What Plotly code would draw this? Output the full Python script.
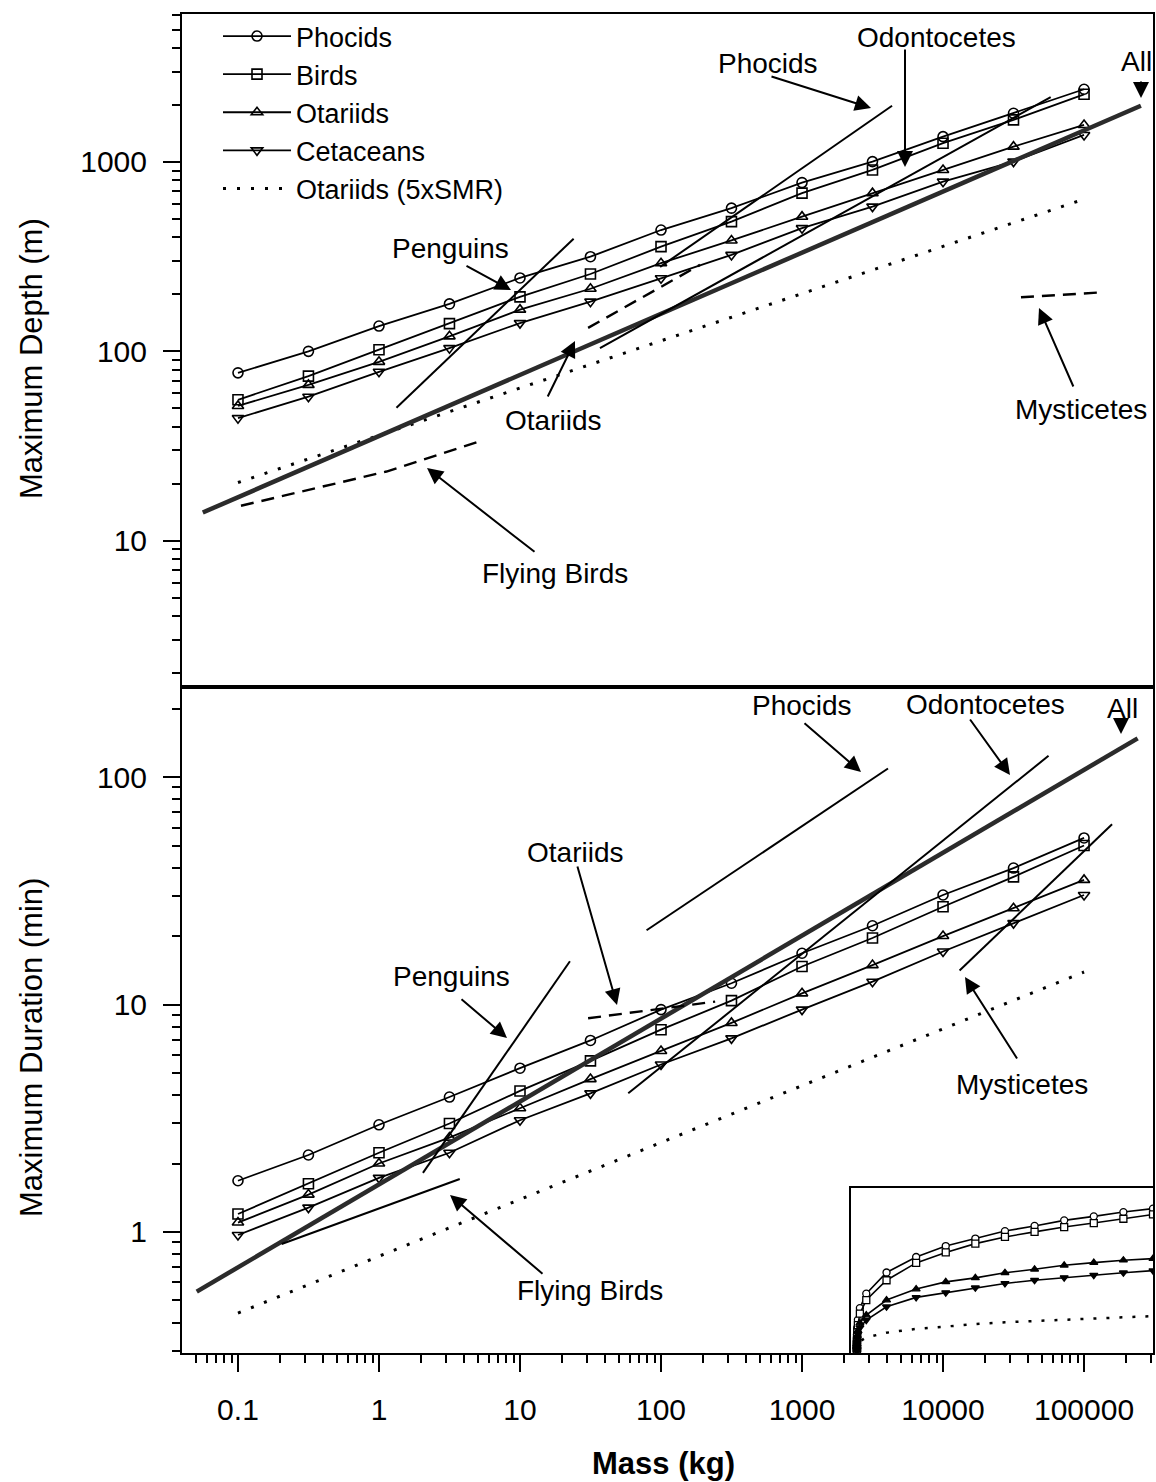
import math
import plotly.graph_objects as go

# ---------------- data ----------------
mass = [0.1, 0.316, 1, 3.16, 10, 31.6, 100, 316, 1000, 3160, 10000, 31600, 100000]

depth_phocids = [77, 100, 136, 178, 244, 316, 437, 570, 778, 1004, 1360, 1807, 2420]
depth_birds = [55.5, 74, 102, 140, 194, 256, 357, 484, 684, 907, 1256, 1667, 2275]
depth_otariids = [51.5, 66.5, 88, 120, 166, 214, 292, 385, 514, 684, 907, 1204, 1567]
depth_cetaceans = [44.4, 57.6, 78, 104, 141, 183, 243, 323, 447, 581, 787, 1004, 1388]

dur_phocids = [1.68, 2.18, 2.96, 3.92, 5.25, 6.95, 9.5, 12.4, 16.8, 22.2, 30.3, 39.8, 54]
dur_birds = [1.2, 1.63, 2.23, 3.0, 4.17, 5.65, 7.75, 10.4, 14.7, 19.6, 26.9, 36.4, 50]
dur_otariids = [1.1, 1.46, 2.0, 2.6, 3.5, 4.7, 6.25, 8.3, 11.2, 14.9, 20.0, 26.5, 35.3]
dur_cetaceans = [0.97, 1.28, 1.73, 2.23, 3.1, 4.07, 5.45, 7.1, 9.5, 12.6, 17.1, 22.8, 30.3]

smr_mass = [0.1, 100000]
depth_smr = [20.3, 636]
dur_smr = [0.44, 13.9]

# regression lines, maximum depth
all_mass_d = [0.0563, 253000]
all_depth = [14.1, 1980]
peng_mass_d = [1.33, 24]
peng_depth = [50.4, 393]
phoc_mass_d = [98.5, 4350]
phoc_depth = [279, 1980]
odon_mass_d = [36.9, 58000]
odon_depth = [104, 2200]
otar_mass_d = [30.4, 189]
otar_depth = [133, 286]
fly_mass_d = [0.105, 0.41, 1.13, 5.0]
fly_depth = [15.3, 19.4, 23.2, 33.2]
myst_mass_d = [35700, 136000]
myst_depth = [193, 205]

# regression lines, maximum duration
all_mass_t = [0.051, 240000]
all_dur = [0.547, 148]
peng_mass_t = [2.05, 22.6]
peng_dur = [1.82, 15.5]
phoc_mass_t = [79, 4070]
phoc_dur = [21.2, 109]
odon_mass_t = [58.6, 56000]
odon_dur = [4.07, 124]
otar_mass_t = [30.4, 242]
otar_dur = [8.7, 10.3]
fly_mass_t = [0.204, 3.74]
fly_dur = [0.885, 1.71]
myst_mass_t = [13100, 158000]
myst_dur = [14.1, 62]

# inset (linear axes), maximum duration
inset_mass = [0.1, 0.316, 1, 3.16, 10, 31.6, 100, 316, 1000, 3160,
              10000, 20000, 30000, 40000, 50000, 60000, 70000, 80000, 90000, 100000]
inset_phocids = [1.68, 2.18, 2.96, 3.92, 5.25, 6.95, 9.5, 12.4, 16.8, 22.2,
                 30.1, 35.9, 40.0, 42.8, 45.6, 47.5, 49.6, 51.1, 52.7, 54.0]
inset_birds = [1.2, 1.63, 2.23, 3.0, 4.17, 5.65, 7.75, 10.4, 14.7, 19.8,
               27.2, 33.7, 37.6, 40.9, 43.4, 45.3, 47.1, 48.6, 50.2, 51.8]
inset_otariids = [1.1, 1.46, 2.0, 2.6, 3.5, 4.7, 6.25, 8.3, 11.2, 14.2,
                  19.8, 23.9, 26.6, 28.1, 30.0, 31.3, 32.8, 33.8, 34.7, 35.3]
inset_cetaceans = [0.97, 1.28, 1.73, 2.23, 3.1, 4.07, 5.45, 7.1, 9.5, 12.3,
                   17.3, 20.8, 22.6, 24.4, 26.0, 27.2, 28.2, 29.1, 30.0, 30.8]
inset_smr = [0.44, 0.58, 0.78, 1.04, 1.39, 1.85, 2.47, 3.3, 4.4, 5.8,
             7.6, 9.0, 10.0, 10.8, 11.5, 12.0, 12.5, 13.0, 13.4, 13.8]

x_ticks = [0.1, 1, 10, 100, 1000, 10000, 100000]
x_ticktext = ["0.1", "1", "10", "100", "1000", "10000", "100000"]
depth_ticks = [10, 100, 1000]
depth_ticktext = ["10", "100", "1000"]
dur_ticks = [1, 10, 100]
dur_ticktext = ["1", "10", "100"]

# ---------------- layout geometry ----------------
W, H = 1156, 1482
L, R, T, B = 182, 3, 14, 129
PW, PH = W - L - R, H - T - B
split = 0.4974
FONT = "Liberation Sans, Arial, sans-serif"


def px(x):
    return (x - L) / PW


def py(y):
    return (H - B - y) / PH


def minor_vals(lo_exp, hi_exp, lo, hi):
    vals = []
    for e in range(lo_exp, hi_exp + 1):
        for d in range(2, 10):
            v = d * 10 ** e
            if lo <= v <= hi:
                vals.append(v)
    return vals


fig = go.Figure()

series = [
    ("Phocids", "circle-open", depth_phocids, dur_phocids, inset_phocids, "circle", "white"),
    ("Birds", "square-open", depth_birds, dur_birds, inset_birds, "square", "white"),
    ("Otariids", "triangle-up-open", depth_otariids, dur_otariids, inset_otariids, "triangle-up", "black"),
    ("Cetaceans", "triangle-down-open", depth_cetaceans, dur_cetaceans, inset_cetaceans, "triangle-down", "black"),
]

LW = 1.8
for name, sym, dvals, tvals, ivals, isym, ifill in series:
    fig.add_trace(go.Scatter(x=mass, y=dvals, mode="lines+markers", name=name,
                             line=dict(color="black", width=LW),
                             marker=dict(symbol=sym, size=10, color="black", line=dict(width=1.6)),
                             xaxis="x", yaxis="y", legendgroup=name))
    fig.add_trace(go.Scatter(x=mass, y=tvals, mode="lines+markers", name=name, showlegend=False,
                             line=dict(color="black", width=LW),
                             marker=dict(symbol=sym, size=10, color="black", line=dict(width=1.6)),
                             xaxis="x2", yaxis="y2", legendgroup=name))
    fig.add_trace(go.Scatter(x=inset_mass, y=ivals, mode="lines+markers", showlegend=False,
                             line=dict(color="black", width=1.6),
                             marker=dict(symbol=isym, size=7, color=ifill, line=dict(width=1.3, color="black")),
                             xaxis="x3", yaxis="y3"))

DOT = "3px,11px"
fig.add_trace(go.Scatter(x=smr_mass, y=depth_smr, mode="lines", name="Otariids (5xSMR)",
                         line=dict(color="black", width=3, dash=DOT), xaxis="x", yaxis="y"))
fig.add_trace(go.Scatter(x=smr_mass, y=dur_smr, mode="lines", showlegend=False,
                         line=dict(color="black", width=3, dash=DOT), xaxis="x2", yaxis="y2"))
fig.add_trace(go.Scatter(x=inset_mass, y=inset_smr, mode="lines", showlegend=False,
                         line=dict(color="black", width=2.5, dash="3px,10px"), xaxis="x3", yaxis="y3"))

DASH = "13px,8px"
lines_depth = [
    (all_mass_d, all_depth, dict(color="#2b2b2b", width=4.5)),
    (peng_mass_d, peng_depth, dict(color="black", width=2)),
    (phoc_mass_d, phoc_depth, dict(color="black", width=2)),
    (odon_mass_d, odon_depth, dict(color="black", width=2)),
    (otar_mass_d, otar_depth, dict(color="black", width=2.4, dash=DASH)),
    (fly_mass_d, fly_depth, dict(color="black", width=2.4, dash=DASH)),
    (myst_mass_d, myst_depth, dict(color="black", width=2.4, dash=DASH)),
]
for xs, ys, ln in lines_depth:
    fig.add_trace(go.Scatter(x=xs, y=ys, mode="lines", showlegend=False, line=ln,
                             xaxis="x", yaxis="y", hoverinfo="skip"))

lines_dur = [
    (all_mass_t, all_dur, dict(color="#2b2b2b", width=4.5)),
    (peng_mass_t, peng_dur, dict(color="black", width=2)),
    (phoc_mass_t, phoc_dur, dict(color="black", width=2)),
    (odon_mass_t, odon_dur, dict(color="black", width=2)),
    (otar_mass_t, otar_dur, dict(color="black", width=2.4, dash=DASH)),
    (fly_mass_t, fly_dur, dict(color="black", width=2)),
    (myst_mass_t, myst_dur, dict(color="black", width=2)),
]
for xs, ys, ln in lines_dur:
    fig.add_trace(go.Scatter(x=xs, y=ys, mode="lines", showlegend=False, line=ln,
                             xaxis="x2", yaxis="y2", hoverinfo="skip"))

# ---------------- annotations ----------------
labels = [
    ("Phocids", 768, 64), ("Odontocetes", 936, 37), ("All", 1136, 61),
    ("Penguins", 450, 248), ("Otariids", 553, 420), ("Mysticetes", 1081, 410),
    ("Flying Birds", 555, 573),
    ("Phocids", 802, 705), ("Odontocetes", 985, 704), ("All", 1122, 708),
    ("Otariids", 575, 852), ("Penguins", 451, 976), ("Mysticetes", 1022, 1084),
    ("Flying Birds", 590, 1290),
]
arrows = [
    (770, 76, 871, 108), (905, 48, 905, 167), (1141, 80, 1141, 98),
    (465, 265, 511, 290), (547, 398, 575, 341), (1074, 388, 1039, 308),
    (536, 553, 427, 468),
    (803, 722, 861, 772), (969, 718, 1010, 775), (1121, 717, 1121, 734),
    (577, 865, 617, 1005), (460, 998, 507, 1038), (1018, 1060, 965, 977),
    (544, 1275, 450, 1195),
]
annotations = []
for text, cx, cy in labels:
    annotations.append(dict(x=px(cx), y=py(cy), xref="paper", yref="paper", text=text,
                            showarrow=False, xanchor="center", yanchor="middle",
                            font=dict(family=FONT, size=28, color="black")))
for tx, ty, hx, hy in arrows:
    annotations.append(dict(x=px(hx), y=py(hy), xref="paper", yref="paper", text="",
                            showarrow=True, ax=tx - hx, ay=ty - hy, axref="pixel", ayref="pixel",
                            arrowhead=2, arrowsize=1.6, arrowwidth=2, arrowcolor="black"))

# axis titles (placed as rotated text)
annotations.append(dict(x=px(31), y=py(359), xref="paper", yref="paper", text="Maximum Depth (m)",
                        textangle=-90, showarrow=False, xanchor="center", yanchor="middle",
                        font=dict(family=FONT, size=31, color="black")))
annotations.append(dict(x=px(31), y=py(1048), xref="paper", yref="paper", text="Maximum Duration (min)",
                        textangle=-90, showarrow=False, xanchor="center", yanchor="middle",
                        font=dict(family=FONT, size=31, color="black")))
annotations.append(dict(x=px(663), y=py(1463), xref="paper", yref="paper", text="<b>Mass (kg)</b>",
                        showarrow=False, xanchor="center", yanchor="middle",
                        font=dict(family=FONT, size=31, color="black")))

axis_common = dict(showline=True, linecolor="black", linewidth=2, mirror=True,
                   showgrid=False, zeroline=False)
tickfont = dict(family=FONT, size=30, color="black")

fig.update_layout(
    width=W, height=H,
    margin=dict(l=L, r=R, t=T, b=B, autoexpand=False),
    paper_bgcolor="white", plot_bgcolor="white",
    font=dict(family=FONT, color="black"),
    showlegend=True,
    legend=dict(x=px(218), y=py(12), xanchor="left", yanchor="top",
                bgcolor="rgba(0,0,0,0)", font=dict(family=FONT, size=27),
                tracegroupgap=0, itemwidth=68),
    annotations=annotations,
    xaxis=dict(type="log", range=[-1.397, 5.489], domain=[0, 1], anchor="y",
               showticklabels=False, ticks="", **axis_common),
    yaxis=dict(type="log", range=[0.228, 3.781], domain=[split, 1], anchor="x",
               tickvals=depth_ticks, ticktext=depth_ticktext, ticks="outside",
               ticklen=17, tickwidth=2, tickcolor="black", tickfont=tickfont,
               ticklabelstandoff=10,
               minor=dict(ticks="outside", ticklen=8, tickwidth=1.6, tickcolor="black",
                          tickvals=minor_vals(0, 3, 1.7, 6000)),
               **axis_common),
    xaxis2=dict(type="log", range=[-1.397, 5.489], domain=[0, 1], anchor="y2",
                tickvals=x_ticks, ticktext=x_ticktext, ticks="outside",
                ticklen=17, tickwidth=2, tickcolor="black", tickfont=tickfont,
                ticklabelstandoff=12,
                minor=dict(ticks="outside", ticklen=8, tickwidth=1.6, tickcolor="black",
                           tickvals=minor_vals(-2, 5, 0.045, 300000)),
                **axis_common),
    yaxis2=dict(type="log", range=[-0.532, 2.396], domain=[0, split], anchor="x2",
                tickvals=dur_ticks, ticktext=dur_ticktext, ticks="outside",
                ticklen=17, tickwidth=2, tickcolor="black", tickfont=tickfont,
                ticklabelstandoff=10,
                minor=dict(ticks="outside", ticklen=8, tickwidth=1.6, tickcolor="black",
                           tickvals=minor_vals(-1, 2, 0.3, 240)),
                **axis_common),
    xaxis3=dict(range=[-2000, 100000], domain=[px(851), 1], anchor="y3",
                showticklabels=False, ticks="", showline=True, linecolor="black",
                linewidth=1.6, mirror=True, showgrid=False, zeroline=False),
    yaxis3=dict(range=[0, 61.7], domain=[0, py(1188)], anchor="x3",
                showticklabels=False, ticks="", showline=True, linecolor="black",
                linewidth=1.6, mirror=True, showgrid=False, zeroline=False),
)

fig.write_html("out.html", config={"displayModeBar": False},
               post_script="document.body.style.margin='0px';document.body.style.padding='0px';")
